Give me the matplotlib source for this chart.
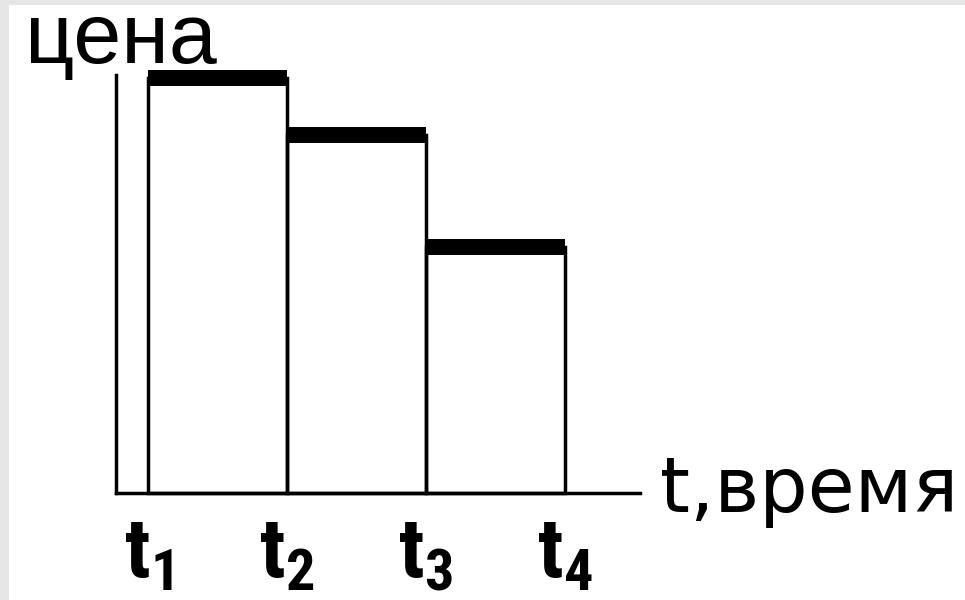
import matplotlib
matplotlib.use("Agg")
import matplotlib.pyplot as plt
from matplotlib.patches import Rectangle
from matplotlib import font_manager as fm

# Data
times = [1, 2, 3, 4]                 # t1..t4
prices = [8.30, 7.16, 4.91]          # price level on each interval
tick_labels = [r"$\mathrm{t_1}$", r"$\mathrm{t_2}$", r"$\mathrm{t_3}$", r"$\mathrm{t_4}$"]
y_label = "цена"
x_label = "t,время"

# pick a narrow bold face for the t1..t4 labels
narrow = 'Liberation Sans'
for cand in ['Liberation Sans Narrow', 'Arial Narrow', 'Roboto Condensed', 'Barlow Condensed',
             'Asap Condensed', 'PT Sans Narrow']:
    if any(f.name == cand and str(f.weight) in ('700', 'bold') and f.style == 'normal'
           for f in fm.fontManager.ttflist):
        narrow = cand
        break

plt.rcParams['mathtext.fontset'] = 'custom'
plt.rcParams['mathtext.rm'] = narrow + ':bold'
plt.rcParams['mathtext.it'] = narrow + ':bold'
plt.rcParams['mathtext.bf'] = narrow + ':bold'
plt.rcParams['font.family'] = ['Liberation Sans', 'DejaVu Sans']

fig = plt.figure(figsize=(9.65, 6.0), dpi=100)
fig.patch.set_facecolor('#e6e6e6')
bg = Rectangle((9 / 965, 0), 1, 1 - 5 / 600, transform=fig.transFigure,
               facecolor='white', edgecolor='none', zorder=-10)
fig.patches.append(bg)

ax = fig.add_axes([116 / 965, 1 - 493 / 600, (640 - 116) / 965, (493 - 75) / 600])
ax.set_zorder(5)
ax.set_facecolor('none')

lw_thin = 2.5
for i in range(len(prices)):
    t0, t1 = times[i], times[i + 1]
    ax.add_patch(Rectangle((t0, 0), t1 - t0, prices[i], fill=False,
                           edgecolor='black', linewidth=lw_thin, clip_on=False))
    ax.hlines(prices[i], t0, t1, colors='black', linewidth=11.5,
              capstyle='butt', clip_on=False)

ax.set_xlim(0.77, 4.54)
ax.set_ylim(0, 8.36)

for s in ['top', 'right']:
    ax.spines[s].set_visible(False)
for s in ['left', 'bottom']:
    ax.spines[s].set_linewidth(lw_thin)
    ax.spines[s].set_color('black')

ax.set_yticks([])
ax.set_xticks(times)
ax.set_xticklabels(tick_labels, fontsize=60)
ax.tick_params(axis='x', length=0, pad=17)

fig.text(25 / 965, 1 - 63 / 600, y_label, fontsize=62, ha='left', va='baseline', zorder=6)
fig.text(660 / 965, 1 - 512 / 600, x_label, fontsize=55, ha='left', va='baseline', zorder=6,
         family=['DejaVu Sans'])

fig.savefig("out.png", dpi=100)
